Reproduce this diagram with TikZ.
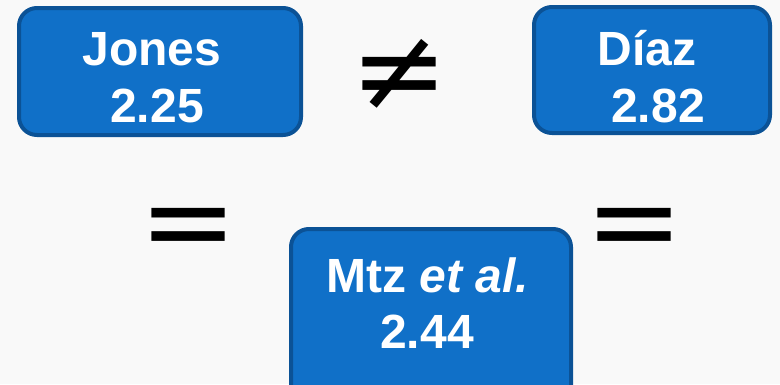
\documentclass[tikz,border=0pt]{standalone}
\usepackage{fontspec}
\setmainfont{Liberation Sans}
\newfontfamily\signfont{DejaVu Sans}
\usetikzlibrary{positioning}
\usetikzlibrary{math}

\definecolor{boxblue}{HTML}{1070C8}
\definecolor{boxedge}{HTML}{0B5296}
\definecolor{paper}{HTML}{F9F9F9}

\tikzset{
  score/.style={draw=boxedge, line width=4pt, fill=boxblue, rounded corners=18pt, inner sep=0pt},
  lbl/.style={text=white, font=\fontsize{48}{57}\selectfont\bfseries, inner sep=0pt, anchor=base},
  sign/.style={font=\signfont\fontsize{117}{117}\selectfont, inner sep=0pt, anchor=base}
}

\begin{document}
\begin{tikzpicture}[x=1pt, y=-1pt]
  \tikzmath{
    \W = 780;
    \H = 384;
  }
  % background
  \fill[paper] (0,0) rectangle (\W,\H);
  \useasboundingbox (0,0) rectangle (\W,\H);
  \clip (0,0) rectangle (\W,\H);

  % boxes
  \node[score, minimum width=282, minimum height=127] (jones) at (160,71.5) {};
  \node[score, minimum width=236, minimum height=126] (diaz) at (652,70) {};
  \node[score, minimum width=280, minimum height=180] (mtz) at (431,319) {};

  % names and values
  \node[lbl] (jonesname) at (152,65) {Jones};
  \node[lbl] (jonesval) at (157,122) {2.25};
  \node[lbl] (diazname) at (647,65) {Díaz};
  \node[lbl] (diazval) at (658,122) {2.82};
  \node[lbl] (mtzname) at (428,292) {Mtz \textit{et al.}};
  \node[lbl] (mtzval) at (427,348) {2.44};

  % signs
  \node[sign] (neq) at (400,110) {≠};
  \node[sign] (eqleft) at (189,261) {=};
  \node[sign] (eqright) at (635,261) {=};
\end{tikzpicture}
\end{document}
